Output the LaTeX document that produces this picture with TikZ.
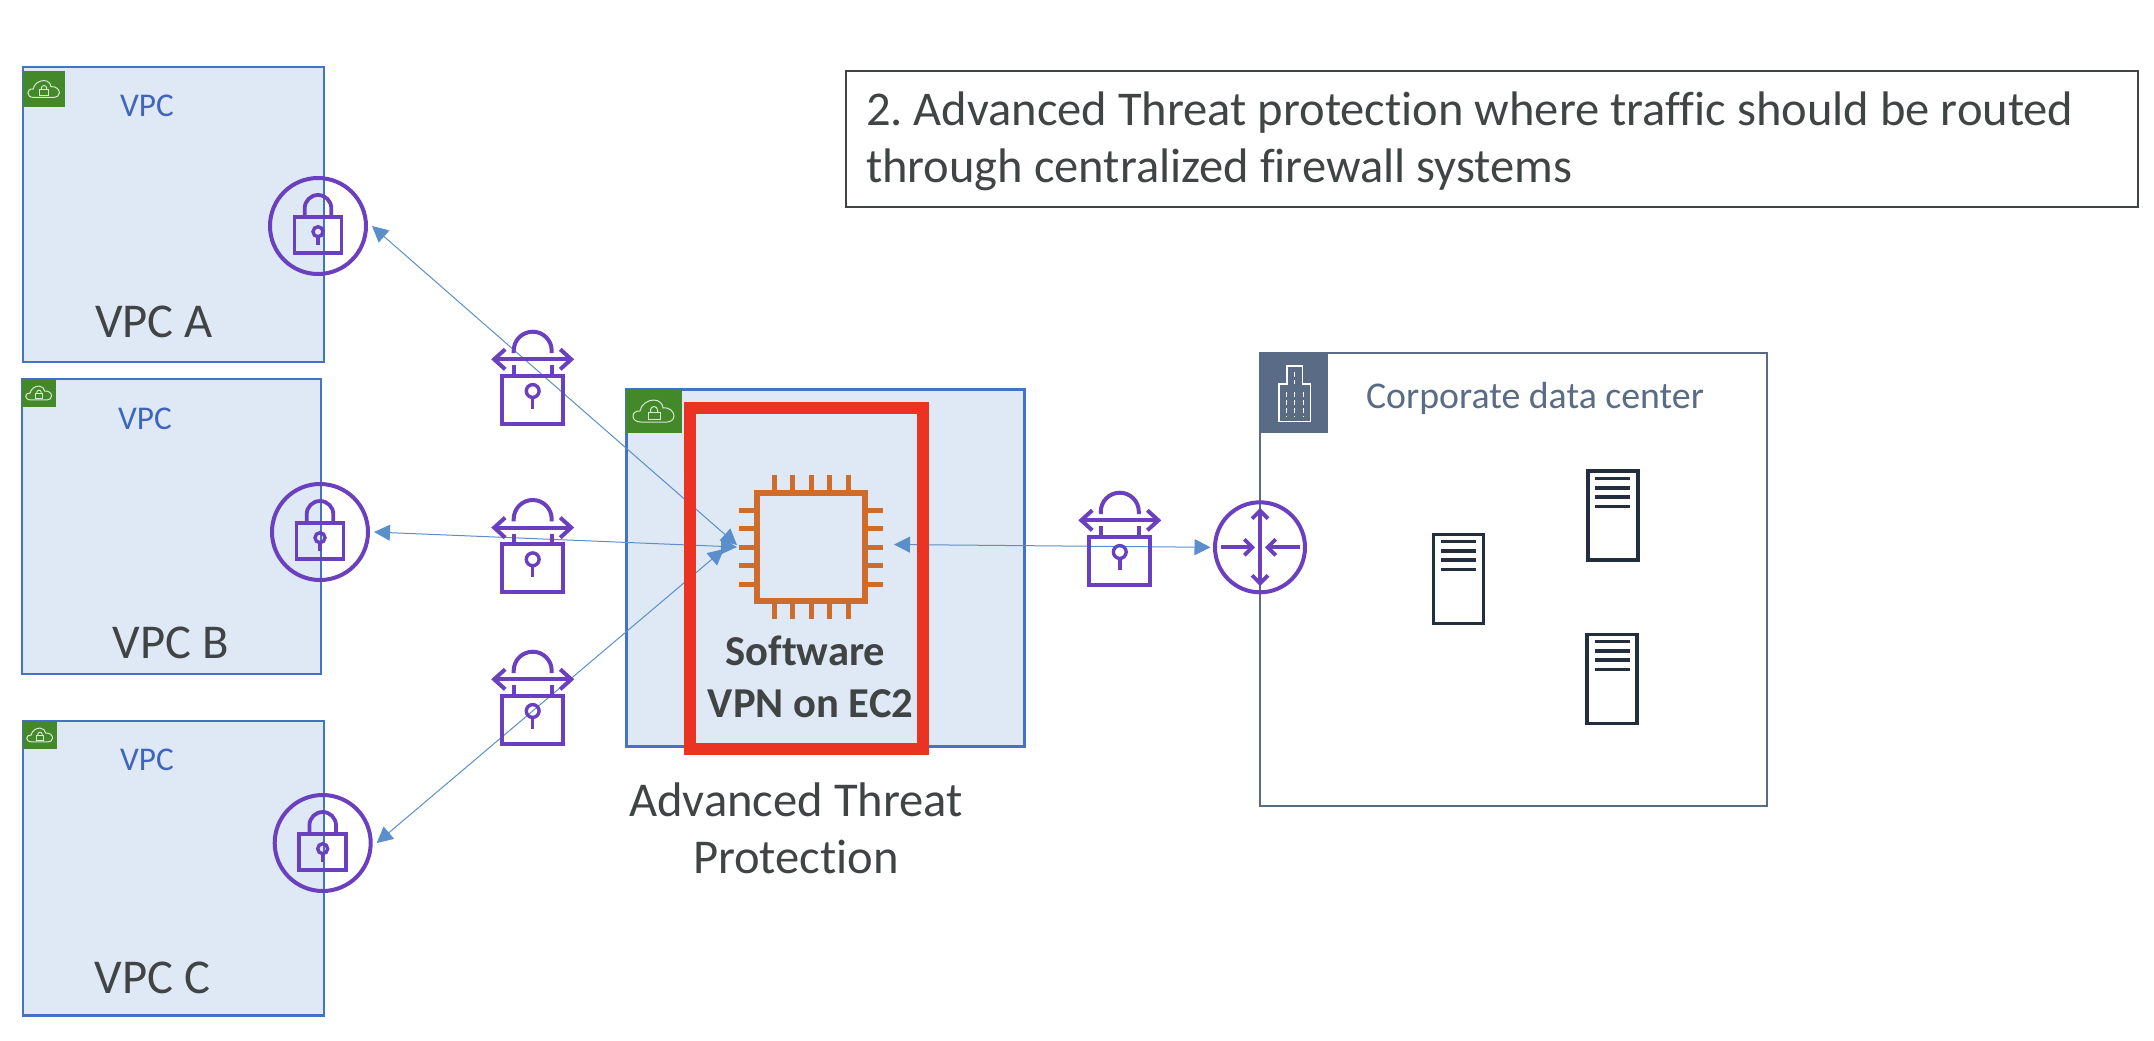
\documentclass[tikz,border=0pt]{standalone}
\usepackage{fontspec}
\setmainfont{Carlito}[Ligatures=NoCommon]
\usetikzlibrary{calc,arrows.meta}

\definecolor{vpcfill}{HTML}{DFE8F5}
\definecolor{vpcline}{HTML}{4472C4}
\definecolor{vpctext}{HTML}{3F66BC}
\definecolor{taggreen}{HTML}{438829}
\definecolor{lockpurple}{HTML}{6A40BF}
\definecolor{linkblue}{HTML}{5B8FCC}
\definecolor{chiporange}{HTML}{CC6D2E}
\definecolor{alertred}{HTML}{EA3323}
\definecolor{corpslate}{HTML}{5A6B86}
\definecolor{srvdark}{HTML}{232F3E}
\definecolor{textgrey}{HTML}{404444}

\begin{document}
\begin{tikzpicture}
	[   x=0.5pt,y=-0.5pt,
		vpcbox/.style={draw=vpcline,fill=vpcfill,line width=1.25pt,inner sep=0pt},
		tagbox/.style={fill=taggreen,inner sep=0pt},
		vpclabel/.style={anchor=base,text=vpctext,font=\fontsize{16.6}{20}\selectfont},
		namelabel/.style={anchor=base,text=textgrey,font=\fontsize{24.3}{29}\selectfont},
		lockring/.style={draw=lockpurple,line width=2pt,circle,minimum size=48pt,inner sep=0pt,outer sep=3pt},
		srvbox/.style={draw=srvdark,line width=1.9pt,minimum width=25pt,minimum height=44.5pt,inner sep=0pt},
	]
	\tikzset{link arrow/.style={draw=linkblue,line width=0.5pt,{Triangle[length=8pt,width=8pt]}-{Triangle[length=8pt,width=8pt]}}}
	\tikzset{purple barb/.style={draw=lockpurple,line width=1.9pt}}
	\tikzset{padlock/.pic={
		\draw[draw=lockpurple,line width=1.9pt] (-23.5,-9) rectangle (23.5,27);
		\draw[draw=lockpurple,line width=1.9pt] (-13.3,-9) -- (-13.3,-17.7) arc[start angle=180,end angle=0,radius=6.65pt] -- (13.3,-9);
		\draw[draw=lockpurple,line width=1.7pt] (0,5.7) circle[radius=2.5pt];
		\draw[draw=lockpurple,line width=1.7pt] (0,10.7) -- (0,19);
	}}
	\tikzset{gateway/.pic={
		\draw[draw=lockpurple,line width=2pt,{Straight Barb[length=5.5pt,width=10pt]}-{Straight Barb[length=5.5pt,width=10pt]}] (-41.5,0) -- (41.5,0);
		\draw[draw=lockpurple,line width=2pt] (-19,-6.3) -- (-19,-8.6) arc[start angle=180,end angle=0,radius=9.5pt] -- (19,-6.3);
		\draw[draw=lockpurple,line width=2pt] (-19,6) -- (-19,16.4);
		\draw[draw=lockpurple,line width=2pt] (19,6) -- (19,16.4);
		\draw[draw=lockpurple,line width=2pt] (-30.5,16.4) rectangle (30.5,64.7);
		\draw[draw=lockpurple,line width=1.7pt] (0,31.7) circle[radius=3.2pt];
		\draw[draw=lockpurple,line width=1.7pt] (0,38) -- (0,49.7);
	}}
	\tikzset{cloudtag/.pic={
		\draw[draw=white!80!taggreen,line width=0.5pt] (-13,11) .. controls (-24,11) and (-23,-1) .. (-14,0)
			.. controls (-13,-7) and (-6,-11) .. (0,-11)
			.. controls (5,-11) and (9,-7) .. (9,-3)
			.. controls (16,-4) and (20,1) .. (20,5)
			.. controls (20,9) and (16,11) .. (13,11) -- cycle;
		\draw[draw=white!80!taggreen,line width=0.5pt] (-6,1) rectangle (6,8);
		\draw[draw=white!80!taggreen,line width=0.5pt] (-3.5,1) -- (-3.5,-1) arc[start angle=180,end angle=0,radius=1.75pt] -- (3.5,1);
	}}
	\useasboundingbox (0,0) rectangle (2154,1040);

	% vpc boxes
	\node[vpcbox,minimum width=150.5pt,minimum height=147.5pt] (vpc-a) at (173.5,214.5) {};
	\node[vpcbox,minimum width=149.5pt,minimum height=147.5pt] (vpc-b) at (171.5,526.5) {};
	\node[vpcbox,minimum width=150.5pt,minimum height=147.3pt] (vpc-c) at (173.5,868.3) {};
	\node[vpcbox,minimum width=199pt,minimum height=178.7pt] (vpc-hub) at (825.5,568) {};

	\node[tagbox,minimum width=21pt,minimum height=18pt] (tag-a) at (44,89) {};
	\node[tagbox,minimum width=17pt,minimum height=14pt] (tag-b) at (39,393) {};
	\node[tagbox,minimum width=17pt,minimum height=14pt] (tag-c) at (40,735) {};
	\node[tagbox,minimum width=27.8pt,minimum height=21.8pt] (tag-hub) at (654,411) {};
	\pic[scale=0.77] at (tag-a) {cloudtag};
	\pic[scale=0.63] at (tag-b) {cloudtag};
	\pic[scale=0.63] at (tag-c) {cloudtag};
	\pic at (tag-hub) {cloudtag};

	\node[vpclabel] (vpc-a-tag) at (147,116.7) {VPC};
	\node[vpclabel] (vpc-b-tag) at (145,429) {VPC};
	\node[vpclabel] (vpc-c-tag) at (147,770.7) {VPC};
	\node[namelabel] (vpc-a-name) at (154,337) {VPC A};
	\node[namelabel] (vpc-b-name) at (170.5,658) {VPC B};
	\node[namelabel] (vpc-c-name) at (152.7,993) {VPC C};

	% locks on the vpc edge
	\node[lockring] (lock-a) at (318,226) {};
	\node[lockring] (lock-b) at (320,532) {};
	\node[lockring] (lock-c) at (322.7,843) {};
	\foreach \x in {a,b,c}
	{
		\pic at (lock-\x) {padlock};
	}

	% corporate side
	\node[draw=corpslate,fill=white,line width=1.25pt,minimum width=253.5pt,minimum height=226.5pt,inner sep=0pt] (corp) at (1513.5,579.5) {};
	\node[fill=corpslate,minimum width=34.2pt,minimum height=40pt,inner sep=0pt] (corp-tag) at (1294.2,393) {};
	\draw[draw=white,line width=0.6pt] (1279,421.7) -- (1279,384) -- (1287,384) -- (1287,366) -- (1302.5,366) -- (1302.5,384) -- (1310.5,384) -- (1310.5,421.7) -- cycle;
	\foreach \x in {1286,1294.5,1303.5}
	{
		\draw[draw=white,line width=0.5pt,dash pattern=on 2.5pt off 1.5pt] (\x,392) -- (\x,417);
	}
	\draw[draw=white,line width=0.5pt,dash pattern=on 2.5pt off 1.5pt] (1294.5,372) -- (1294.5,384);
	\node[anchor=base,text=corpslate,font=\fontsize{18.9}{23}\selectfont] (corp-name) at (1535,408) {Corporate data center};

	\node[srvbox] (srv-1) at (1458.5,579) {};
	\node[srvbox] (srv-2) at (1612.8,515.8) {};
	\node[srvbox] (srv-3) at (1612.3,679) {};
	\foreach \n in {1,2,3}
	{
		\foreach \y in {9,18.3,27.6,37}
		{
			\draw[draw=srvdark,line width=1.8pt] ($(srv-\n.north)+(-17.5,\y)$) -- ($(srv-\n.north)+(17.5,\y)$);
		}
	}

	\node[draw=lockpurple,line width=2pt,circle,minimum size=45pt,inner sep=0pt,outer sep=2.25pt] (router) at (1260,547.3) {};
	\coordinate (router-l) at (1221,547.3);
	\coordinate (router-r) at (1300,547.3);
	\coordinate (router-t) at (1260,508);
	\coordinate (router-b) at (1260,586);
	\draw[purple barb,{Straight Barb[length=4pt,width=8pt]}-{Straight Barb[length=4pt,width=8pt]}] (router-t) -- (router-b);
	\draw[purple barb,-{Straight Barb[length=4pt,width=8pt]}] (router-l) -- (1255,547.3);
	\draw[purple barb,-{Straight Barb[length=4pt,width=8pt]}] (router-r) -- (1265,547.3);

	% the links
	\node[draw=chiporange,line width=3pt,minimum size=54pt,inner sep=0pt] (chip) at (811,547) {};
	\coordinate (chip-a) at (737,545);
	\coordinate (chip-b) at (737,547);
	\coordinate (chip-c) at (724,549);
	\coordinate (chip-out) at (894,544.5);
	\path[link arrow] (lock-a.east) -- (chip-a);
	\path[link arrow] (lock-b.east) -- (chip-b);
	\path[link arrow] (lock-c.east) -- (chip-c);
	\path[link arrow] (chip-out) -- (router.west);

	\node[draw=alertred,line width=6pt,minimum width=116.5pt,minimum height=170.5pt,inner sep=0pt] (hub-frame) at (806.5,578.5) {};
	\foreach \x in {-37,-18.5,0,18.5,37}
	{
		\draw[draw=chiporange,line width=2.5pt] ($(chip.north)+(\x,0)$) -- ++(0,-15);
		\draw[draw=chiporange,line width=2.5pt] ($(chip.south)+(\x,0)$) -- ++(0,15);
		\draw[draw=chiporange,line width=2.5pt] ($(chip.west)+(0,\x)$) -- ++(-15,0);
		\draw[draw=chiporange,line width=2.5pt] ($(chip.east)+(0,\x)$) -- ++(15,0);
	}
	\node[align=flush center,text=textgrey,font=\fontsize{21.3}{26}\selectfont\bfseries] (hub-name) at (810.5,676.5) {Software\hspace*{5pt}\\VPN on EC2};

	% vpn gateways
	\pic at (532.7,359.3) {gateway};
	\pic at (532.7,527.6) {gateway};
	\pic at (532.7,679.3) {gateway};
	\pic at (1119.8,520.3) {gateway};

	\node[align=flush center,text=textgrey,font=\fontsize{24.3}{28.5}\selectfont] (hub-caption) at (796,828) {Advanced Threat\\Protection};

	\node[draw=textgrey,line width=1pt,minimum width=646pt,minimum height=68pt,inner sep=0pt] (note) at (1492,138.5) {};
	\node[text width=626pt,align=flush left,inner sep=0pt,text=textgrey,font=\fontsize{24.25}{28.35}\selectfont\frenchspacing] (note-text) at (1492,141.3) {2. Advanced Threat protection where traffic should be routed\\through centralized firewall systems};
\end{tikzpicture}
\end{document}
